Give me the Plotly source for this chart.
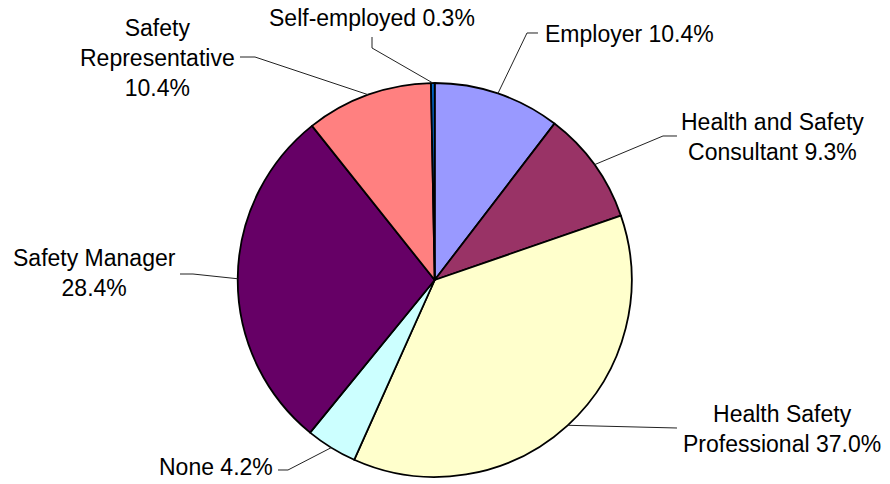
import math
import plotly.graph_objects as go

# Respondent roles, clockwise from 12 o'clock
roles = ["Employer", "Health and Safety Consultant", "Health Safety Professional",
         "None", "Safety Manager", "Safety Representative", "Self-employed"]
shares = [10.4, 9.3, 37.0, 4.2, 28.4, 10.4, 0.3]
label_text = ["Employer 10.4%", "Health and Safety<br>Consultant 9.3%",
              "Health Safety<br>Professional 37.0%", "None 4.2%",
              "Safety Manager<br>28.4%", "Safety<br>Representative<br>10.4%",
              "Self-employed 0.3%"]
colors = ["#9999FF", "#993366", "#FFFFCC", "#CCFFFF", "#660066", "#FF8080", "#0066CC"]

W, H = 890, 484
CX, CY, R = 434.7, 280.0, 197.0   # pie centre / radius in pixels

# label placement (pixel centre of text block, anchor) and leader elbow points
label_pos = [(543, 34, "left"), (772, 137, "center"), (782, 429, "center"),
             (215.5, 467, "center"), (94, 273, "center"), (157, 58, "center"),
             (372, 18, "center")]
elbows = [[(527, 33), (538, 33)], [(663, 136), (677, 136)], [(677, 428)],
          [(288, 470), (278, 470)], [(193, 274), (180, 274)],
          [(255, 57), (240, 57)], [(372, 48), (372, 37)]]


def px(x):
    return x / W


def py(y):
    return 1 - y / H


fig = go.Figure(go.Pie(
    labels=roles, values=shares, sort=False, direction="clockwise", rotation=0,
    marker=dict(colors=colors, line=dict(color="black", width=1.8)),
    textinfo="none", hoverinfo="label+percent",
    domain=dict(x=[px(CX - R), px(CX + R)], y=[py(CY + R), py(CY - R)]),
))

total = sum(shares)
cum = 0.0
shapes, annotations = [], []
for role, v, txt, (lx, ly, anchor), elb in zip(roles, shares, label_text, label_pos, elbows):
    mid = (cum + v / 2) / total * 2 * math.pi
    cum += v
    ex, ey = CX + R * math.sin(mid), CY - R * math.cos(mid)
    pts = [(ex, ey)] + elb
    path = "M " + " L ".join(f"{px(x):.5f},{py(y):.5f}" for x, y in pts)
    shapes.append(dict(type="path", path=path, xref="paper", yref="paper",
                       line=dict(color="#222222", width=1)))
    annotations.append(dict(text=txt, x=px(lx), y=py(ly), xref="paper", yref="paper",
                            xanchor=anchor, yanchor="middle", showarrow=False,
                            align="center",
                            font=dict(family="Liberation Sans, Arial", size=23, color="black")))

fig.update_layout(
    width=W, height=H, margin=dict(l=0, r=0, t=0, b=0),
    paper_bgcolor="white", plot_bgcolor="white", showlegend=False,
    shapes=shapes, annotations=annotations,
)

fig.write_html("out.html")
